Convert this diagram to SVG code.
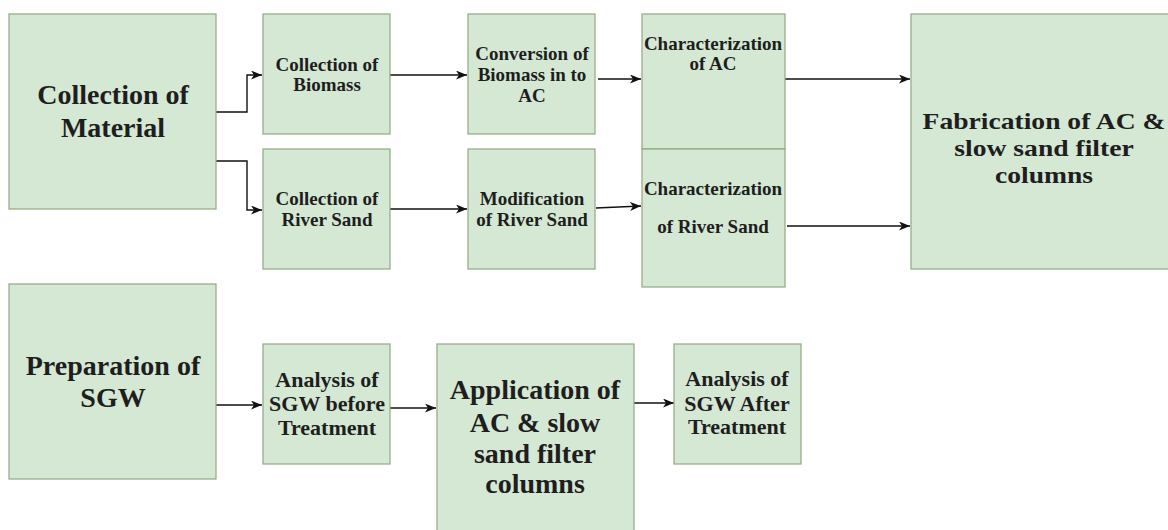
<svg xmlns="http://www.w3.org/2000/svg" width="1168" height="530" viewBox="0 0 1168 530">
<style>
.box{fill:#d5e8d4;stroke:#8fa882;stroke-width:1.2}
.t{fill:#1e1e1e;text-anchor:middle}
.s{font-size:19px}
.m{font-size:22px}
.b{font-size:28px}
.c{fill:none;stroke:#111;stroke-width:1.4}
</style>
<defs>
<marker id="ah" markerUnits="userSpaceOnUse" markerWidth="12" markerHeight="10" refX="11" refY="4.5" orient="auto">
<path d="M0,0 L11,4.5 L0,9 L3,4.5 z" fill="#111"/>
</marker>
</defs>
<rect width="1168" height="530" fill="#ffffff"/>
<g id="connectors">
<path class="c" d="M216,112 H247 V75 H262" marker-end="url(#ah)"/>
<path class="c" d="M216,161 H247 V210 H262" marker-end="url(#ah)"/>
<path class="c" d="M390,75 H467" marker-end="url(#ah)"/>
<path class="c" d="M390,209 H467" marker-end="url(#ah)"/>
<path class="c" d="M598,79 H641" marker-end="url(#ah)"/>
<path class="c" d="M596,208 L641,206" marker-end="url(#ah)"/>
<path class="c" d="M785,79 H910" marker-end="url(#ah)"/>
<path class="c" d="M787,226 H910" marker-end="url(#ah)"/>
<path class="c" d="M216,405 H262" marker-end="url(#ah)"/>
<path class="c" d="M390,408 H436" marker-end="url(#ah)"/>
<path class="c" d="M634,403 H674" marker-end="url(#ah)"/>
</g>
<g font-family="Liberation Serif" font-weight="bold">
<g id="collection-material">
<rect class="box" x="9" y="14" width="207" height="195"/>
<text class="t b" x="113" y="104">Collection of</text>
<text class="t b" x="113" y="137">Material</text>
</g>
<g id="collection-biomass">
<rect class="box" x="263" y="14" width="127" height="120"/>
<text class="t s" x="327" y="71">Collection of</text>
<text class="t s" x="327" y="91">Biomass</text>
</g>
<g id="collection-river-sand">
<rect class="box" x="263" y="149" width="127" height="120"/>
<text class="t s" x="327" y="205">Collection of</text>
<text class="t s" x="327" y="226">River Sand</text>
</g>
<g id="conversion">
<rect class="box" x="468" y="14" width="127" height="120"/>
<text class="t s" x="532" y="60">Conversion of</text>
<text class="t s" x="532" y="81">Biomass in to</text>
<text class="t s" x="532" y="102">AC</text>
</g>
<g id="modification">
<rect class="box" x="468" y="149" width="127" height="120"/>
<text class="t s" x="532" y="205">Modification</text>
<text class="t s" x="532" y="226">of River Sand</text>
</g>
<g id="char-ac">
<rect class="box" x="642" y="14" width="143" height="135"/>
<text class="t s" x="713" y="50">Characterization</text>
<text class="t s" x="713" y="70">of AC</text>
</g>
<g id="char-sand">
<rect class="box" x="642" y="149" width="143" height="138"/>
<text class="t s" x="713" y="195">Characterization</text>
<text class="t s" x="713" y="233">of River Sand</text>
</g>
<g id="fabrication">
<rect class="box" x="911" y="14" width="270" height="255"/>
<g transform="translate(1044,0) scale(1.2,1)">
<text class="t" font-size="23" x="0" y="129">Fabrication of AC &amp;</text>
<text class="t" font-size="23" x="0" y="156">slow sand filter</text>
<text class="t" font-size="23" x="0" y="183">columns</text>
</g>
</g>
<g id="preparation">
<rect class="box" x="9" y="284" width="207" height="195"/>
<text class="t b" x="113" y="375">Preparation of</text>
<text class="t b" x="113" y="407">SGW</text>
</g>
<g id="analysis-before">
<rect class="box" x="263" y="344" width="127" height="120"/>
<text class="t m" x="327" y="387">Analysis of</text>
<text class="t m" x="327" y="411">SGW before</text>
<text class="t m" x="327" y="435">Treatment</text>
</g>
<g id="application">
<rect class="box" x="437" y="344" width="197" height="200"/>
<text class="t b" x="535" y="399">Application of</text>
<text class="t b" x="535" y="432">AC &amp; slow</text>
<text class="t b" x="535" y="463">sand filter</text>
<text class="t b" x="535" y="493">columns</text>
</g>
<g id="analysis-after">
<rect class="box" x="674" y="344" width="127" height="120"/>
<text class="t m" x="737" y="386">Analysis of</text>
<text class="t m" x="737" y="411">SGW After</text>
<text class="t m" x="737" y="434">Treatment</text>
</g>
</g>
</svg>
